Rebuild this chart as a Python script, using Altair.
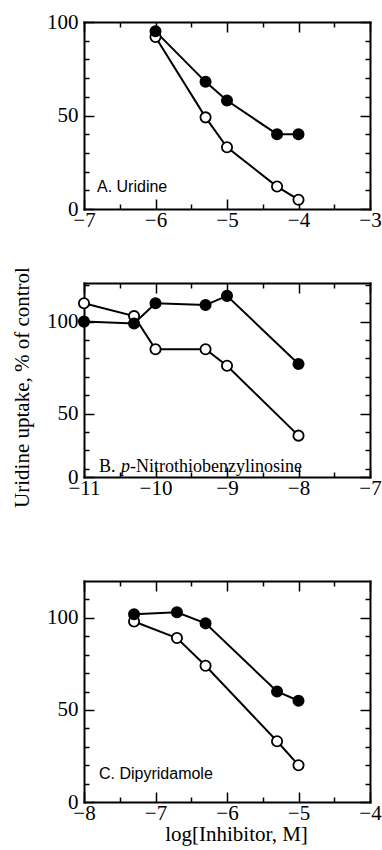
import altair as alt
import pandas as pd

SERIF = "Liberation Serif"
SANS = "Liberation Sans"

# ---------------- data ----------------
# Panel A. Uridine
A_x = [-6.0, -5.3, -5.0, -4.3, -4.0]
A_filled = [95, 68, 58, 40, 40]
A_open = [92, 49, 33, 12, 5]
# Panel B. p-Nitrothiobenzylinosine
B_x = [-11.0, -10.3, -10.0, -9.3, -9.0, -8.0]
B_filled = [100, 99, 110, 109, 114, 77]
B_open = [110, 103, 85, 85, 76, 38]
# Panel C. Dipyridamole
C_x = [-7.3, -6.7, -6.3, -5.3, -5.0]
C_filled = [102, 103, 97, 60, 55]
C_open = [98, 89, 74, 33, 20]

# axis domains / ticks
A_xdom, B_xdom, C_xdom = [-7, -3], [-11, -7], [-8, -4]
A_ydom, B_ydom, C_ydom = [0, 100], [15.5, 121], [0, 120]
A_xmaj = [-7, -6, -5, -4, -3]
A_xmin = [-6.5, -5.5, -4.5, -3.5]
B_xmaj = [-11, -10, -9, -8, -7]
B_xmin = [-10.5, -9.5, -8.5, -7.5]
C_xmaj = [-8, -7, -6, -5, -4]
C_xmin = [-7.5, -6.5, -5.5, -4.5]
A_ymaj = [0, 50, 100]
A_ymin = [10, 20, 30, 40, 60, 70, 80, 90]
B_ymaj = [15.5, 50, 100]          # bottom corner is labelled "0" in the original
B_ymin = [20, 30, 40, 60, 70, 80, 90, 110, 120]
C_ymaj = [0, 50, 100]
C_ymin = [10, 20, 30, 40, 60, 70, 80, 90, 110]

Y_TITLE = "Uridine uptake, % of control"
X_TITLE = "log[Inhibitor, M]"

W = 286
MAJ, MIN = 10, 5
LBL = 21


def panel(xs, filled, opn, xdom, ydom, xmaj, xmin, ymaj, ymin, height, data_h,
          texts, ytitle=None, xtitle=None):
    n = len(xs)
    df = pd.DataFrame({
        "x": list(xs) + list(xs),
        "y": list(opn) + list(filled),
        "series": ["open"] * n + ["filled"] * n,
    })
    off = height - data_h
    xsc = alt.Scale(domain=xdom, nice=False, zero=False)
    ysc = alt.Scale(domain=ydom, nice=False, zero=False, range=[data_h, 0])
    base = alt.Chart(df)

    common = dict(grid=False, labelFlush=False, domainColor="black", tickColor="black",
                  labelColor="black", tickWidth=1.5, domainWidth=2, domainCap="square",
                  labelFont=SERIF, labelFontSize=LBL)

    xl = dict(orient="bottom", values=xmaj, format="d", ticks=False, domain=True,
              labels=True, labelPadding=0, offset=-off, **common)
    if xtitle:
        xl.update(title=xtitle, titleFont=SERIF, titleFontSize=21, titleFontWeight="normal",
                  titleColor="black", titlePadding=0, titleX=152)
    else:
        xl.update(title=None)
    xaxes = [
        alt.Axis(**xl),
        alt.Axis(orient="top", values=xmaj, ticks=False, labels=False, domain=True, title=None, **common),
        alt.Axis(orient="bottom", values=xmin, ticks=True, tickSize=MIN, labels=False, domain=False,
                 title=None, offset=-(off + MIN), **common),
        alt.Axis(orient="bottom", values=xmaj, ticks=True, tickSize=MAJ, labels=False, domain=False,
                 title=None, offset=-(off + MAJ), **common),
        alt.Axis(orient="top", values=xmin, ticks=True, tickSize=MIN, labels=False, domain=False,
                 title=None, offset=-MIN, **common),
        alt.Axis(orient="top", values=xmaj, ticks=True, tickSize=MAJ, labels=False, domain=False,
                 title=None, offset=-MAJ, **common),
    ]
    yl = dict(orient="left", values=ymaj, format="d", ticks=False, domain=True, labels=True,
              labelPadding=6, labelExpr="datum.value < 20 ? '0' : datum.label", **common)
    if ytitle:
        yl.update(title=ytitle, titleFont=SERIF, titleFontSize=21, titleFontWeight="normal",
                  titleColor="black", titlePadding=14, titleY=104)
    else:
        yl.update(title=None)
    yaxes = [
        alt.Axis(**yl),
        alt.Axis(orient="right", values=ymaj, ticks=False, labels=False, domain=True, title=None, **common),
        alt.Axis(orient="left", values=ymin, ticks=True, tickSize=MIN, labels=False, domain=False,
                 title=None, offset=-MIN, **common),
        alt.Axis(orient="left", values=ymaj, ticks=True, tickSize=MAJ, labels=False, domain=False,
                 title=None, offset=-MAJ, **common),
        alt.Axis(orient="right", values=ymin, ticks=True, tickSize=MIN, labels=False, domain=False,
                 title=None, offset=-MIN, **common),
        alt.Axis(orient="right", values=ymaj, ticks=True, tickSize=MAJ, labels=False, domain=False,
                 title=None, offset=-MAJ, **common),
    ]

    layers = []
    for xa, ya in zip(xaxes, yaxes):
        layers.append(base.mark_point(opacity=0).encode(
            x=alt.X("x:Q", scale=xsc, axis=xa),
            y=alt.Y("y:Q", scale=ysc, axis=ya),
        ))
    layers.append(base.mark_line(color="black", strokeWidth=2).encode(
        x=alt.X("x:Q", scale=xsc, axis=None),
        y=alt.Y("y:Q", scale=ysc, axis=None),
        detail="series:N",
    ))
    layers.append(base.mark_point(shape="circle", filled=True, size=105, stroke="black",
                                  strokeWidth=1.8, opacity=1).encode(
        x=alt.X("x:Q", scale=xsc, axis=None),
        y=alt.Y("y:Q", scale=ysc, axis=None),
        fill=alt.Fill("series:N", scale=alt.Scale(domain=["open", "filled"], range=["white", "black"]),
                      legend=None),
    ))
    for t in texts:
        layers.append(alt.Chart(alt.Data(values=[{}])).mark_text(
            text=t["text"], font=t.get("font", SERIF), fontSize=t.get("size", 17),
            fontStyle=t.get("style", "normal"), align="left", baseline="alphabetic", color="black",
        ).encode(x=alt.value(t["x"]), y=alt.value(t["y"])))

    return alt.layer(*layers).resolve_axis(x="independent", y="independent").properties(
        width=W, height=height)


pA = panel(A_x, A_filled, A_open, A_xdom, A_ydom, A_xmaj, A_xmin, A_ymaj, A_ymin, 187, 187,
           [dict(text="A. Uridine", font=SANS, size=16, x=13, y=170)])
pB = panel(B_x, B_filled, B_open, B_xdom, B_ydom, B_xmaj, B_xmin, B_ymaj, B_ymin, 224, 194,
           [dict(text="B.", x=15, y=189, size=18),
            dict(text="p", x=37, y=189, size=18, style="italic"),
            dict(text="-Nitrothiobenzylinosine", x=46, y=189, size=18)],
           ytitle=Y_TITLE)
pC = panel(C_x, C_filled, C_open, C_xdom, C_ydom, C_xmaj, C_xmin, C_ymaj, C_ymin, 221, 221,
           [dict(text="C. Dipyridamole", font=SANS, size=16, x=15, y=198)],
           xtitle=X_TITLE)

chart = alt.vconcat(pA, pB, pC, spacing=74, bounds="flush").configure_view(
    stroke=None
).configure_axis(
    labelFont=SERIF, labelFontSize=LBL, titleFont=SERIF
).properties(
    padding={"top": 11, "left": 11, "right": 0, "bottom": 5})

chart.save("out.html", embed_options={"renderer": "svg", "actions": False})
